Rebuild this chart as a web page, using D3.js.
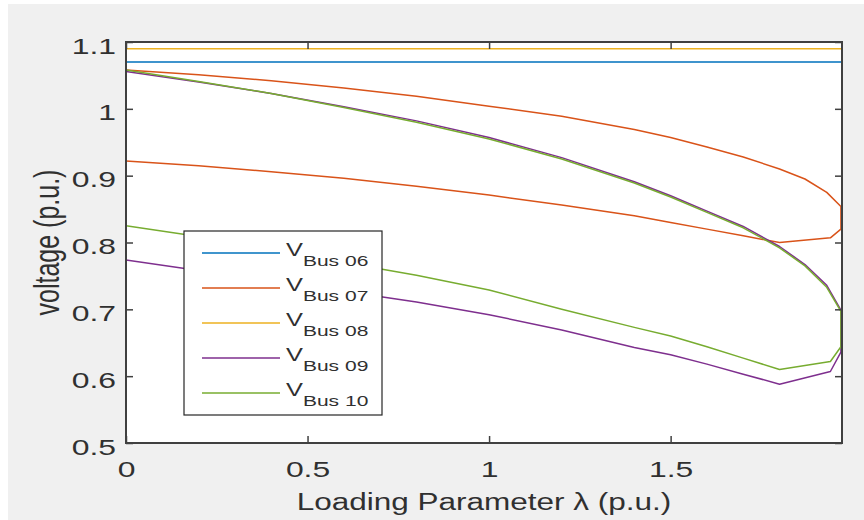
<!DOCTYPE html>
<html>
<head>
<meta charset="utf-8">
<script src="https://cdn.jsdelivr.net/npm/d3@7"></script>
<style>
  html, body { margin: 0; padding: 0; background: #ffffff; }
  svg { display: block; }
  text { font-family: Arial, "Liberation Sans", Helvetica, sans-serif; fill: #303030; }
</style>
</head>
<body>
<svg id="chart" width="864" height="520"></svg>
<script>
// Continuation power flow trace: upper branch up to the nose, then back along the lower branch.
const lambdaUpper = [0, 0.2, 0.4, 0.6, 0.8, 1.0, 1.2, 1.4, 1.5, 1.6, 1.7, 1.8, 1.87, 1.93, 1.969];
const lambdaLower = [1.969, 1.94, 1.8, 1.7, 1.6, 1.5, 1.4, 1.2, 1.0, 0.8, 0.6, 0.4, 0.2, 0];

const bus06Upper = [1.07, 1.07, 1.07, 1.07, 1.07, 1.07, 1.07, 1.07, 1.07, 1.07, 1.07, 1.07, 1.07, 1.07, 1.07];
const bus06Lower = [1.07, 1.07, 1.07, 1.07, 1.07, 1.07, 1.07, 1.07, 1.07, 1.07, 1.07, 1.07, 1.07, 1.07];

const bus07Upper = [1.058, 1.051, 1.042, 1.031, 1.019, 1.004, 0.989, 0.969, 0.957, 0.943, 0.928, 0.910, 0.895, 0.875, 0.854];
const bus07Lower = [0.820, 0.807, 0.800, 0.810, 0.820, 0.830, 0.840, 0.856, 0.871, 0.884, 0.896, 0.906, 0.915, 0.922];

const bus08Upper = [1.09, 1.09, 1.09, 1.09, 1.09, 1.09, 1.09, 1.09, 1.09, 1.09, 1.09, 1.09, 1.09, 1.09, 1.09];
const bus08Lower = [1.09, 1.09, 1.09, 1.09, 1.09, 1.09, 1.09, 1.09, 1.09, 1.09, 1.09, 1.09, 1.09, 1.09];

const bus09Upper = [1.056, 1.040, 1.023, 1.003, 0.982, 0.957, 0.927, 0.891, 0.870, 0.847, 0.824, 0.794, 0.767, 0.736, 0.699];
const bus09Lower = [0.636, 0.607, 0.588, 0.603, 0.618, 0.632, 0.643, 0.669, 0.692, 0.711, 0.727, 0.743, 0.758, 0.774];

const bus10Upper = [1.058, 1.041, 1.023, 1.002, 0.980, 0.955, 0.925, 0.889, 0.868, 0.845, 0.822, 0.792, 0.765, 0.733, 0.697];
const bus10Lower = [0.644, 0.622, 0.610, 0.627, 0.644, 0.660, 0.673, 0.700, 0.729, 0.751, 0.770, 0.790, 0.809, 0.825];

const busLabels = ["Bus 06", "Bus 07", "Bus 08", "Bus 09", "Bus 10"];
const busColors = ["#0072BD", "#D95319", "#EDB120", "#7E2F8E", "#77AC30"];

const xTicks = [0, 0.5, 1, 1.5];
const yTicks = [0.5, 0.6, 0.7, 0.8, 0.9, 1.0, 1.1];
const xDomain = [0, 1.972];
const yDomain = [0.5, 1.1];

// Build one point list per bus (upper branch followed by the lower branch).
const lambdaTrace = lambdaUpper.concat(lambdaLower);
const busValues = [
  bus06Upper.concat(bus06Lower),
  bus07Upper.concat(bus07Lower),
  bus08Upper.concat(bus08Lower),
  bus09Upper.concat(bus09Lower),
  bus10Upper.concat(bus10Lower)
];
const series = busLabels.map((label, i) => ({
  label,
  color: busColors[i],
  points: lambdaTrace.map((l, j) => ({ l, v: busValues[i][j] }))
}));

// Layout
const W = 864, H = 520;
const plot = { left: 126, right: 842, top: 42, bottom: 443 };
const textStretch = 1.45;

const svg = d3.select("#chart");

// Figure background
svg.append("rect").attr("x", 0).attr("y", 0).attr("width", W).attr("height", H).attr("fill", "#ffffff");
svg.append("rect").attr("x", 8).attr("y", 4).attr("width", W - 8).attr("height", H - 4).attr("fill", "#f0f0f0");

const x = d3.scaleLinear().domain(xDomain).range([plot.left, plot.right]);
const y = d3.scaleLinear().domain(yDomain).range([plot.bottom, plot.top]);

// Axes area
svg.append("rect")
  .attr("x", plot.left).attr("y", plot.top)
  .attr("width", plot.right - plot.left).attr("height", plot.bottom - plot.top)
  .attr("fill", "#ffffff");

// Clip so lines stay inside the axes box
svg.append("defs").append("clipPath").attr("id", "plotClip")
  .append("rect")
  .attr("x", plot.left).attr("y", plot.top - 1)
  .attr("width", plot.right - plot.left + 1).attr("height", plot.bottom - plot.top + 2);

const line = d3.line().x(d => x(d.l)).y(d => y(d.v));

const lines = svg.append("g").attr("clip-path", "url(#plotClip)");
lines.selectAll("path")
  .data(series)
  .join("path")
  .attr("d", d => line(d.points))
  .attr("fill", "none")
  .attr("stroke", d => d.color)
  .attr("stroke-width", 1.5)
  .attr("stroke-linejoin", "round");

// Axes with inward ticks on all four sides
const axisColor = "#404040";
function styleAxis(g) {
  g.select(".domain").remove();
  g.selectAll(".tick line").attr("stroke", axisColor).attr("stroke-width", 1.5);
}

const gBottom = svg.append("g")
  .attr("transform", `translate(0,${plot.bottom})`)
  .call(d3.axisBottom(x).tickValues(xTicks).tickSize(-7).tickFormat(d3.format("~g")));
styleAxis(gBottom);
gBottom.selectAll(".tick text")
  .attr("y", null).attr("dy", null)
  .attr("font-size", 22)
  .attr("fill", "#303030")
  .attr("text-anchor", "middle")
  .attr("transform", `translate(0,34) scale(${textStretch},1)`);

const gTop = svg.append("g")
  .attr("transform", `translate(0,${plot.top})`)
  .call(d3.axisTop(x).tickValues(xTicks).tickSize(-7).tickFormat(""));
styleAxis(gTop);

const gLeft = svg.append("g")
  .attr("transform", `translate(${plot.left},0)`)
  .call(d3.axisLeft(y).tickValues(yTicks).tickSize(-7).tickFormat(d3.format("~g")));
styleAxis(gLeft);
gLeft.selectAll(".tick text")
  .attr("x", null).attr("dy", null)
  .attr("font-size", 22)
  .attr("fill", "#303030")
  .attr("text-anchor", "end")
  .attr("transform", `translate(-10,11) scale(${textStretch},1)`);

const gRight = svg.append("g")
  .attr("transform", `translate(${plot.right},0)`)
  .call(d3.axisRight(y).tickValues(yTicks).tickSize(-7).tickFormat(""));
styleAxis(gRight);

// Axes box
svg.append("rect")
  .attr("x", plot.left).attr("y", plot.top)
  .attr("width", plot.right - plot.left).attr("height", plot.bottom - plot.top)
  .attr("fill", "none")
  .attr("stroke", axisColor)
  .attr("stroke-width", 2);

// Axis titles
svg.append("text")
  .attr("transform", `translate(${(plot.left + plot.right) / 2},510) scale(1.37,1)`)
  .attr("text-anchor", "middle")
  .attr("font-size", 23)
  .text("Loading Parameter \u03bb (p.u.)");

svg.append("text")
  .attr("transform", `translate(59,${(plot.top + plot.bottom) / 2}) scale(1.37,1) rotate(-90)`)
  .attr("text-anchor", "middle")
  .attr("font-size", 25)
  .text("voltage (p.u.)");

// Legend
const legend = { x: 184, y: 231, w: 198, h: 184, rowStart: 253, rowGap: 35 };
const gLegend = svg.append("g");
gLegend.append("rect")
  .attr("x", legend.x).attr("y", legend.y)
  .attr("width", legend.w).attr("height", legend.h)
  .attr("fill", "#ffffff")
  .attr("stroke", "#262626")
  .attr("stroke-width", 1.2);

const rows = gLegend.selectAll("g.row")
  .data(series)
  .join("g")
  .attr("class", "row")
  .attr("transform", (d, i) => `translate(0,${legend.rowStart + i * legend.rowGap})`);

rows.append("line")
  .attr("x1", 202).attr("x2", 280)
  .attr("y1", 0).attr("y2", 0)
  .attr("stroke", d => d.color)
  .attr("stroke-width", 1.5);

const labels = rows.append("text")
  .attr("transform", `translate(286,3) scale(${textStretch},1)`);
labels.append("tspan")
  .attr("font-size", 17.5)
  .text("V");
labels.append("tspan")
  .attr("font-size", 14.5)
  .attr("dy", 10)
  .text(d => d.label);
</script>
</body>
</html>
